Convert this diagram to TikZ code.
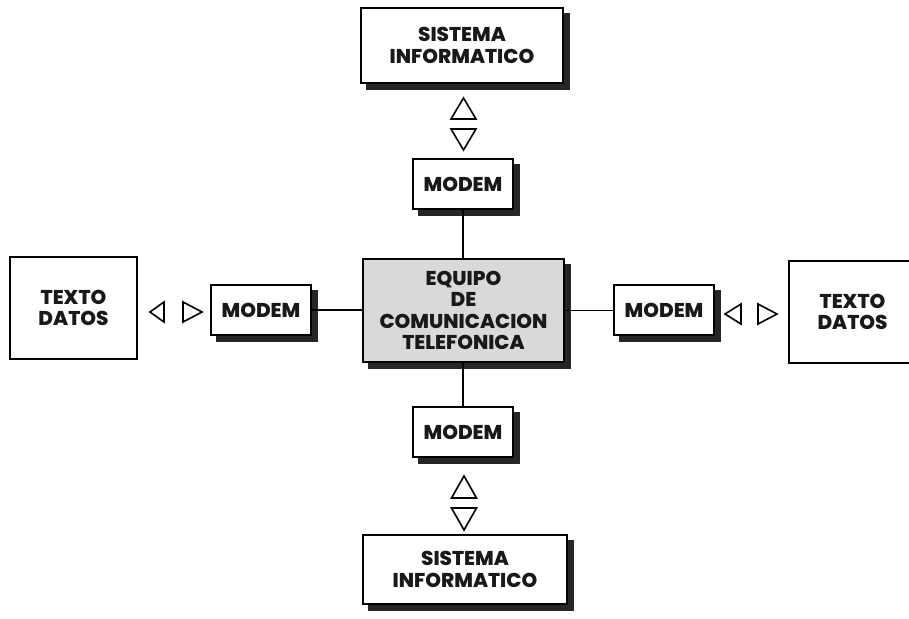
\documentclass[tikz,border=0pt]{standalone}
\usepackage{fontspec}
\setmainfont{Poppins}[BoldFont={Poppins ExtraBold}]
\usetikzlibrary{backgrounds}
\begin{document}
\begin{tikzpicture}[
  x=1pt, y=-1pt,
  every node/.style={draw, line width=2.6pt, align=center, inner sep=0pt, fill=white, text=black!90,
    font=\bfseries\fontsize{20}{21.5}\selectfont},
  modem/.style={minimum width=100pt, minimum height=50pt},
  shade/.style={fill=black!85},
  link/.style={line width=1.6pt},
  tri/.style={line width=1.6pt, fill=white, line join=miter}
  ]
  \useasboundingbox (0,0) rectangle (909,618);
  \clip (0,0) rectangle (909,618);

  % Define nodes
  \node[minimum width=202pt, minimum height=75pt] (S1) at (462,45.5) {SISTEMA\\INFORMATICO};
  \node[modem] (M1) at (463,184) {MODEM};
  \node[fill=black!15, minimum width=201pt, minimum height=103pt] (E) at (463.5,310.5)
    {EQUIPO\\DE\\COMUNICACION\\TELEFONICA};
  \node[modem] (M2) at (261,310) {MODEM};
  \node[modem] (M3) at (664,310) {MODEM};
  \node[modem] (M4) at (463,432) {MODEM};
  \node[minimum width=204pt, minimum height=69pt] (S2) at (465,569.5) {SISTEMA\\INFORMATICO};
  \node[minimum width=127pt, minimum height=102pt] (T1) at (73.5,308) {TEXTO\\DATOS};
  \node[minimum width=127pt, minimum height=102pt] (T2) at (852.5,312) {TEXTO\\DATOS};

  % Shadows behind the boxes
  \begin{scope}[on background layer]
    \fill[white] (0,0) rectangle (909,618);
    \foreach \n in {S1,M1,E,M2,M3,M4,S2}
      \fill[shade] ([shift={(6,6)}]\n.south west) rectangle ([shift={(6,6)}]\n.north east);
  \end{scope}

  % Lines from modems to the center
  \draw[link] (M1.south) -- (M1.south |- E.north);
  \draw[link] (M4.north) -- (M4.north |- E.south);
  \draw[link] (M2.east) -- (M2.east -| E.west);
  \draw[link] (E.east) -- (E.east -| M3.west);

  % Triangles
  \draw[tri] (463.5,98) -- ++(12.5,21) -- ++(-25,0) -- cycle;
  \draw[tri] (463.5,150) -- ++(12.5,-21) -- ++(-25,0) -- cycle;
  \draw[tri] (464,476) -- ++(12.5,22) -- ++(-25,0) -- cycle;
  \draw[tri] (464,530) -- ++(12.5,-22) -- ++(-25,0) -- cycle;
  \draw[tri] (150,312) -- ++(14,-10) -- ++(0,20) -- cycle;
  \draw[tri] (202,312) -- ++(-19,-10) -- ++(0,20) -- cycle;
  \draw[tri] (725,314) -- ++(16,-10) -- ++(0,20) -- cycle;
  \draw[tri] (777,314) -- ++(-19,-10) -- ++(0,20) -- cycle;
\end{tikzpicture}
\end{document}
